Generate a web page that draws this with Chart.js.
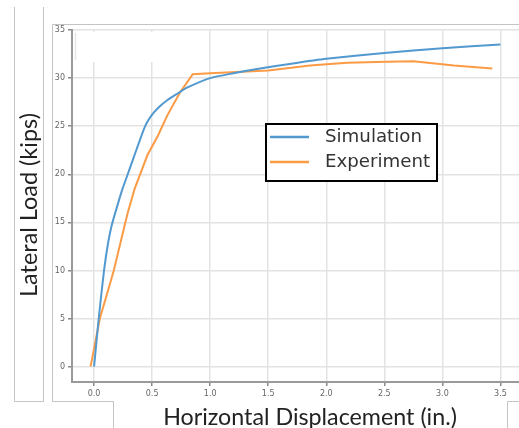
<!DOCTYPE html>
<html>
<head>
<meta charset="utf-8">
<script src="https://cdn.jsdelivr.net/npm/chart.js@4"></script>
<style>
  body { margin: 0; background: #fff; }
  #wrap { width: 519px; height: 428px; }
</style>
</head>
<body>
<div id="wrap"><canvas id="loadChart" width="519" height="428"></canvas></div>
<script>
// data
const simX = [0, 0.02, 0.04, 0.086, 0.12, 0.15, 0.19, 0.24, 0.29, 0.34, 0.44, 0.5, 0.56, 0.63, 0.72, 0.8, 1.0, 1.2, 1.43, 1.7, 2.0, 2.5, 3.0, 3.5];
const simY = [0, 2.5, 5, 10, 12.8, 14.6, 16.3, 18.3, 20, 21.7, 25, 26.2, 27, 27.7, 28.4, 29, 30, 30.5, 31, 31.5, 32, 32.6, 33.1, 33.5];
const expX = [-0.03, 0.05, 0.17, 0.23, 0.29, 0.35, 0.46, 0.55, 0.63, 0.74, 0.85, 1.0, 1.5, 1.86, 2.18, 2.52, 2.75, 3.1, 3.43];
const expY = [0, 5, 10, 13, 16, 18.5, 22, 24, 26.1, 28.5, 30.4, 30.5, 30.8, 31.3, 31.6, 31.7, 31.75, 31.3, 31.0];
const xTicks = [0, 0.5, 1.0, 1.5, 2.0, 2.5, 3.0, 3.5];
const yTicks = [0, 5, 10, 15, 20, 25, 30, 35];
const seriesNames = ['Simulation', 'Experiment'];
const xTitle = 'Horizontal Displacement (in.)';
const yTitle = 'Lateral Load (kips)';

function pairs(xs, ys) {
    return xs.map((x, i) => ({ x: x, y: ys[i] }));
}

// fit a font size so the text has a given width
function fitFont(ctx, text, family, width) {
    ctx.font = '20px ' + family;
    const w = ctx.measureText(text).width;
    return 20 * width / w;
}

// frames, labels and legend around the plot
const decor = {
    id: 'decor',
    beforeDraw(chart) {
        const ctx = chart.ctx;
        ctx.save();
        ctx.fillStyle = '#fff';
        ctx.fillRect(0, 0, chart.width, chart.height);
        ctx.restore();
    },
    beforeDatasetsDraw(chart) {
        const ctx = chart.ctx;
        ctx.save();
        // blank patch near the top left of the plot
        ctx.fillStyle = '#fff';
        ctx.fillRect(77, 32, 129, 30);
        ctx.strokeStyle = '#e6e6e6';
        ctx.lineWidth = 1.5;
        ctx.beginPath();
        ctx.moveTo(75.5, 33); ctx.lineTo(75.5, 60);
        ctx.stroke();
        ctx.restore();
    },
    afterDraw(chart) {
        const ctx = chart.ctx;
        ctx.save();
        // outer boxes
        ctx.strokeStyle = '#c4c4c4';
        ctx.lineWidth = 1;
        ctx.beginPath();
        ctx.moveTo(14.5, 7); ctx.lineTo(14.5, 401.5); ctx.lineTo(43.5, 401.5); ctx.lineTo(43.5, 7);
        ctx.moveTo(519, 24.5); ctx.lineTo(52.5, 24.5); ctx.lineTo(52.5, 401.5); ctx.lineTo(113.5, 401.5); ctx.lineTo(113.5, 428);
        ctx.moveTo(519, 401.5); ctx.lineTo(507.5, 401.5); ctx.lineTo(507.5, 428);
        ctx.stroke();

        // axis titles
        const fam = 'Lato, "Open Sans", sans-serif';
        ctx.fillStyle = '#222';
        ctx.textAlign = 'center';
        ctx.textBaseline = 'alphabetic';
        let fs = fitFont(ctx, xTitle, fam, 294);
        ctx.font = fs + 'px ' + fam;
        ctx.fillText(xTitle, 310, 425);
        fs = fitFont(ctx, yTitle, fam, 184);
        ctx.font = fs + 'px ' + fam;
        ctx.translate(37, 205);
        ctx.rotate(-Math.PI / 2);
        ctx.fillText(yTitle, 0, 0);
        ctx.restore();

        // legend
        ctx.save();
        ctx.fillStyle = '#fff';
        ctx.fillRect(266, 124, 171, 57);
        ctx.strokeStyle = '#000';
        ctx.lineWidth = 2;
        ctx.strokeRect(266, 124, 171, 57);
        const lfam = '"DejaVu Sans", sans-serif';
        const lfs = fitFont(ctx, seriesNames[0], lfam, 97);
        ctx.font = lfs + 'px ' + lfam;
        ctx.textAlign = 'left';
        ctx.textBaseline = 'middle';
        chart.data.datasets.forEach((ds, i) => {
            const y = 137 + i * 25;
            ctx.strokeStyle = ds.borderColor;
            ctx.lineWidth = 2.5;
            ctx.beginPath();
            ctx.moveTo(270, y); ctx.lineTo(309, y);
            ctx.stroke();
            ctx.fillStyle = '#333';
            ctx.fillText(ds.label, 325, y);
        });
        ctx.restore();
    }
};

const tickFont = { family: '"DejaVu Sans", sans-serif', size: 8 };

new Chart(document.getElementById('loadChart'), {
    type: 'line',
    data: {
        datasets: [
            { label: seriesNames[0], data: pairs(simX, simY), borderColor: '#5299d0', borderWidth: 2, pointRadius: 0, tension: 0.2, fill: false },
            { label: seriesNames[1], data: pairs(expX, expY), borderColor: '#fb9b45', borderWidth: 2, pointRadius: 0, tension: 0, fill: false }
        ]
    },
    options: {
        responsive: false,
        animation: false,
        events: [],
        layout: { padding: { left: 0, top: 30, right: 0, bottom: 0 } },
        plugins: { legend: { display: false }, tooltip: { enabled: false } },
        scales: {
            x: {
                type: 'linear',
                min: -0.19,
                max: 3.66,
                afterBuildTicks: s => { s.ticks = xTicks.map(v => ({ value: v })); },
                afterFit: s => { s.height = 46; },
                grid: { color: '#e3e3e3', lineWidth: 1.5, tickColor: '#888', tickLength: 4 },
                border: { color: '#9a9a9a', width: 2 },
                ticks: { font: tickFont, color: '#666', padding: 3, maxRotation: 0, callback: v => v.toFixed(1) }
            },
            y: {
                type: 'linear',
                min: -1.6,
                max: 35,
                afterBuildTicks: s => { s.ticks = yTicks.map(v => ({ value: v })); },
                afterFit: s => { s.width = 72; },
                grid: { color: '#e3e3e3', lineWidth: 1.5, tickColor: '#888', tickLength: 4 },
                border: { color: '#9a9a9a', width: 2 },
                ticks: { font: tickFont, color: '#666', padding: 3 }
            }
        }
    },
    plugins: [decor]
});
</script>
</body>
</html>
